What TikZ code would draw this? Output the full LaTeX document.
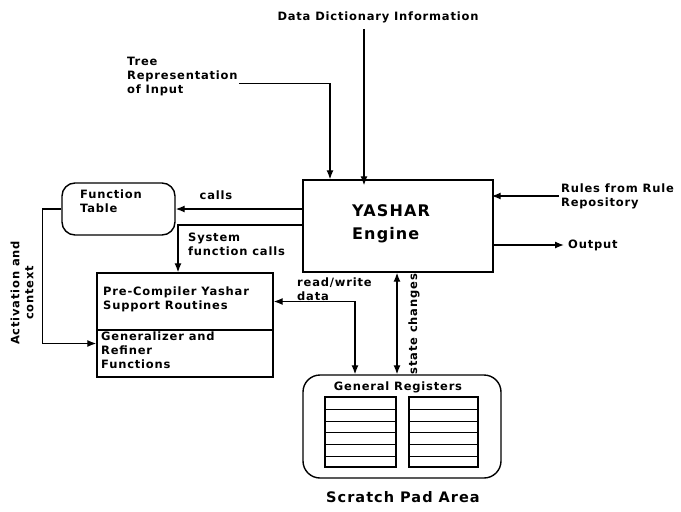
\documentclass[tikz,border=0pt]{standalone}
\usepackage{fontspec}
\setmainfont{DejaVu Sans}[LetterSpace=7]
\usetikzlibrary{arrows.meta}
\begin{document}
\begin{tikzpicture}[x=1pt,y=-1pt,
  lbl/.style={font=\bfseries\fontsize{11.5}{14}\selectfont, inner sep=0pt, align=left},
  boxline/.style={draw, line width=1.4pt},
  arr/.style={line width=1.3pt, -{Latex[length=9pt,width=7pt]}},
  arrboth/.style={line width=1.3pt, {Latex[length=9pt,width=7pt]}-{Latex[length=9pt,width=7pt]}}]
\useasboundingbox (0,0) rectangle (681,512);
% nodes
\node[boxline, minimum width=190pt, minimum height=92pt] (eng) at (398,226) {};
\node[lbl, anchor=west, font=\bfseries\fontsize{16}{23}\selectfont] (engtxt) at (352,224) {YASHAR\\Engine};
\node[boxline, rounded corners=13pt, minimum width=113pt, minimum height=52pt] (ft) at (118.5,209) {};
\node[lbl, anchor=north west] (fttxt) at (80,190) {Function\\Table};
\node[boxline, minimum width=176pt, minimum height=57pt] (pc) at (185,301.5) {};
\node[lbl, anchor=north west] (pctxt) at (103,287) {Pre-Compiler Yashar\\Support Routines};
\node[boxline, minimum width=176pt, minimum height=47pt] (gr) at (185,353.5) {};
\node[lbl, anchor=north west] (grtxt) at (101,332) {Generalizer and\\Refiner\\Functions};
\node[boxline, rounded corners=17pt, minimum width=198pt, minimum height=103pt] (sp) at (402,426.5) {};
\node[lbl] (regtxt) at (398,387) {General Registers};
\node[lbl, font=\bfseries\fontsize{14.5}{16}\selectfont] (sptxt) at (403,497) {Scratch Pad Area};
% registers
\foreach \xa/\xb in {325/396,409/478}{
  \draw[line width=1.1pt] (\xa,397) rectangle (\xb,467);
  \foreach \yy in {409,421,432,444,456}{\draw[line width=1pt] (\xa,\yy) -- (\xb,\yy);}
}
% outside labels
\node[lbl] (dd) at (378,17) {Data Dictionary Information};
\node[lbl, anchor=north west] (tree) at (127,57) {Tree\\Representation\\of Input};
\node[lbl, anchor=west] (rules) at (561,196) {Rules from Rule\\Repository};
\node[lbl, anchor=west] (out) at (568,245) {Output};
\node[lbl] (calls) at (216,195) {calls};
\node[lbl, anchor=north west] (sys) at (188,233) {System\\function calls};
\node[lbl, anchor=west] (rw) at (297,289) {read/write\\data};
\node[lbl, rotate=90] (st) at (414,324) {state changes};
\node[lbl, rotate=90, align=center] (act) at (22,293) {Activation and\\context};
% connectors
\draw[arr] ([xshift=-14pt,yshift=-6pt]dd.south) -- ([xshift=-14pt,yshift=-6pt]dd.south |- eng.north);
\draw[arr] ([xshift=1pt,yshift=-7pt]tree.east) -| ([xshift=-68pt]eng.north);
\draw[arr] ([xshift=-2pt]rules.west) -- ([xshift=-2pt]rules.west -| eng.east);
\draw[arr] (out.west -| eng.east) -- ([xshift=-4pt]out.west);
\draw[arr] (ft.east -| eng.west) -- (ft.east);
\draw[arr] ([yshift=1pt]eng.west) -| ([xshift=-7pt]pc.north);
\draw[arr] (ft.west) -- ++(-19,0) |- ([yshift=10pt]gr.west);
\draw[arrboth] (pc.east) -| ([xshift=-47pt]sp.north);
\draw[arrboth] ([xshift=-1pt]eng.south) -- ([xshift=-1pt]eng.south |- sp.north);
\end{tikzpicture}
\end{document}
